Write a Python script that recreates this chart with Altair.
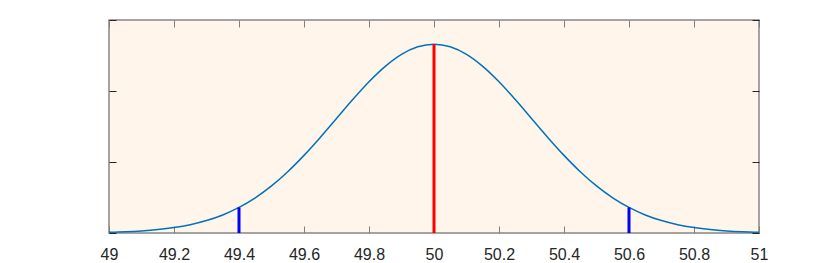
import altair as alt
import pandas as pd

# curve values (x step 0.05)
curve_x = [49.00, 49.05, 49.10, 49.15, 49.20, 49.25, 49.30, 49.35, 49.40, 49.45,
           49.50, 49.55, 49.60, 49.65, 49.70, 49.75, 49.80, 49.85, 49.90, 49.95,
           50.00, 50.05, 50.10, 50.15, 50.20, 50.25, 50.30, 50.35, 50.40, 50.45,
           50.50, 50.55, 50.60, 50.65, 50.70, 50.75, 50.80, 50.85, 50.90, 50.95, 51.00]
curve_y = [0.0051, 0.0088, 0.0148, 0.0240, 0.0380, 0.0584, 0.0874, 0.1272, 0.1800, 0.2478,
           0.3317, 0.4317, 0.5467, 0.6733, 0.8066, 0.9397, 1.0648, 1.1735, 1.2579, 1.3114,
           1.3298, 1.3114, 1.2579, 1.1735, 1.0648, 0.9397, 0.8066, 0.6733, 0.5467, 0.4317,
           0.3317, 0.2478, 0.1800, 0.1272, 0.0874, 0.0584, 0.0380, 0.0240, 0.0148, 0.0088, 0.0051]

marker_x = [49.4, 50.0, 50.6]
marker_y = [0.18, 1.3298, 0.18]
marker_color = ["#0000FF", "#FF0000", "#0000FF"]

x_ticks = [49.0, 49.2, 49.4, 49.6, 49.8, 50.0, 50.2, 50.4, 50.6, 50.8, 51.0]
y_ticks = [0.0, 0.5, 1.0, 1.5]

curve_df = pd.DataFrame({"x": curve_x, "y": curve_y})
marker_df = pd.DataFrame({"x": marker_x, "y": marker_y, "y0": [0.0] * 3, "c": marker_color})

xscale = alt.Scale(domain=[49, 51], nice=False, zero=False)
yscale = alt.Scale(domain=[0, 1.5], nice=False)

FONT = "Liberation Sans"

curve = alt.Chart(curve_df).mark_line(color="#0072BD", strokeWidth=1.5, interpolate="monotone").encode(
    x=alt.X("x:Q", scale=xscale, title=None,
            axis=alt.Axis(orient="bottom", values=x_ticks, format=".1~f", offset=-7,
                          tickSize=7, tickColor="#808080", tickWidth=1, domain=False,
                          grid=False, labelPadding=13, labelFont=FONT, labelFontSize=16,
                          labelColor="#262626", labelFlush=False)),
    y=alt.Y("y:Q", scale=yscale, title=None,
            axis=alt.Axis(orient="left", values=y_ticks, offset=-7, tickSize=7,
                          tickColor="#262626", tickWidth=1, domain=False, grid=False,
                          labels=False)),
)

markers = alt.Chart(marker_df).mark_rule(strokeWidth=3).encode(
    x=alt.X("x:Q", scale=xscale, title=None,
            axis=alt.Axis(orient="top", values=x_ticks, offset=-7, tickSize=7,
                          tickColor="#808080", tickWidth=1, domain=False, grid=False,
                          labels=False)),
    y=alt.Y("y0:Q", scale=yscale, title=None,
            axis=alt.Axis(orient="right", values=y_ticks, offset=-7, tickSize=7,
                          tickColor="#262626", tickWidth=1, domain=False, grid=False,
                          labels=False)),
    y2="y:Q",
    color=alt.Color("c:N", scale=None, legend=None),
)

chart = alt.layer(curve, markers).resolve_axis(x="independent", y="independent").properties(
    width=650, height=213,
    autosize=alt.AutoSizeParams(type="none"),
    padding={"left": 109, "top": 20, "right": 80, "bottom": 30},
    background="white",
).configure_view(fill="#FFF5EA", stroke="#868686", strokeWidth=1.5)

chart.save("out.html", embed_options={"renderer": "svg", "actions": False})
